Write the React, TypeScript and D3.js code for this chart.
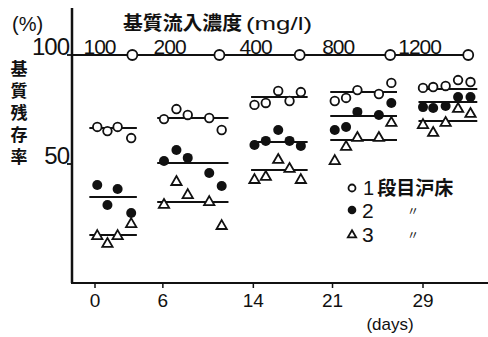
import React from "react";
import * as d3 from "d3";

// ---- data ----
const groupDays: number[][] = [
  [0.2, 1.1, 2.0, 3.2],
  [6.1, 7.2, 8.2, 10.1, 11.2],
  [14.1, 15.1, 16.2, 17.2, 18.2],
  [21.2, 22.2, 23.2, 25.1, 26.2],
  [29.0, 29.9, 31.0, 32.1, 33.2],
];
const groupSpan: [number, number][] = [
  [-0.5, 3.7],
  [5.5, 11.8],
  [13.8, 18.8],
  [20.8, 26.7],
  [28.6, 33.8],
];
const stage1: number[][] = [
  [67.0, 65.1, 67.0, 61.9],
  [70.6, 75.2, 72.5, 71.1, 65.6],
  [77.1, 78.0, 83.5, 78.9, 83.0],
  [78.9, 80.3, 83.9, 82.1, 87.2],
  [84.9, 85.3, 85.8, 88.5, 87.6],
];
const stage2: number[][] = [
  [40.4, 31.2, 38.5, 27.5],
  [51.4, 56.4, 52.8, 45.9, 39.9],
  [58.7, 60.6, 65.6, 60.6, 58.3],
  [65.6, 67.0, 73.9, 72.5, 78.0],
  [76.1, 75.7, 76.6, 80.7, 80.7],
];
const stage3: number[][] = [
  [17.4, 13.8, 17.4, 22.9],
  [31.7, 42.2, 36.2, 33.0, 22.0],
  [43.1, 44.5, 52.3, 48.2, 43.1],
  [51.8, 58.3, 62.4, 62.4, 69.3],
  [68.3, 64.7, 69.3, 75.7, 73.4],
];
const mean1 = [66.5, 71.1, 80.7, 83.0, 84.4];
const mean2 = [34.9, 50.5, 60.1, 72.0, 78.4];
const mean3 = [17.4, 32.6, 47.2, 61.0, 69.7];

const concLabels = ["100", "200", "400", "800", "1200"];
const concLabelDays = [0.4, 6.6, 14.2, 21.5, 28.7];
const concChangeDays = [3.3, 11.0, 18.1, 26.1, 33.0];

const xTicks = [0, 6, 14, 21, 29];
const yTicks = [100, 50];
const yLabel = "基質残存率";
const legendLabels = ["1段目沪床", "2", "3"];

export default function App() {
  const W = 488, H = 337;
  const x = d3.scaleLinear().domain([0, 29]).range([95, 423]);
  const y = d3.scaleLinear().domain([50, 100]).range([164, 55]);
  const axisX = 72;
  const axisBottom = 283;
  const axisTop = 8;
  const black = "#111";
  const numFont = "'Liberation Sans', Arial, sans-serif";
  const jpFont = "'Noto Sans CJK JP', sans-serif";
  const tri = d3.symbol().type(d3.symbolTriangle).size(46)() as string;
  const triSmall = d3.symbol().type(d3.symbolTriangle).size(30)() as string;

  const openC = (cx: number, cy: number, k: string, r = 4.3) => (
    <circle key={k} cx={cx} cy={cy} r={r} fill="#fff" stroke={black} strokeWidth={1.8} />
  );
  const fillC = (cx: number, cy: number, k: string, r = 5) => (
    <circle key={k} cx={cx} cy={cy} r={r} fill={black} />
  );
  const triM = (cx: number, cy: number, k: string, p = tri) => (
    <path key={k} d={p} transform={`translate(${cx},${cy + 1})`} fill="#fff" stroke={black} strokeWidth={1.8} />
  );

  return (
    <svg width={W} height={H} style={{ display: "block", position: "absolute", left: 0, top: 0, background: "#fff" }}>
      <rect width={W} height={H} fill="#fff" />
      {/* axes */}
      <line x1={axisX} y1={axisTop} x2={axisX} y2={axisBottom} stroke={black} strokeWidth={2.5} />
      <line x1={axisX - 1} y1={axisBottom} x2={W} y2={axisBottom} stroke={black} strokeWidth={2.2} />
      {xTicks.map((t) => (
        <g key={"xt" + t}>
          <line x1={x(t)} y1={axisBottom} x2={x(t)} y2={axisBottom + 5} stroke={black} strokeWidth={1.5} />
          <text x={x(t)} y={axisBottom + 24} textAnchor="middle" fontFamily={numFont} fontSize={19} fill={black}>{t}</text>
        </g>
      ))}
      <text x={390} y={330} textAnchor="middle" fontFamily={numFont} fontSize={17} fill={black}>(days)</text>
      {/* y ticks */}
      {yTicks.map((t) => (
        <g key={"yt" + t}>
          <line x1={axisX - 5} y1={y(t)} x2={axisX} y2={y(t)} stroke={black} strokeWidth={1.8} />
          <text x={axisX - 3} y={y(t)} textAnchor="end" fontFamily={numFont} fontSize={24} fill={black} letterSpacing={-1}>{t}</text>
        </g>
      ))}
      <text x={12} y={31} fontFamily={numFont} fontSize={20} fill={black}>(%)</text>
      <text x={19} y={60} fontFamily={jpFont} fontSize={17} fontWeight={600} fill={black}
        style={{ writingMode: "vertical-rl" } as any} letterSpacing={5}>{yLabel}</text>
      {/* title */}
      <text x={123} y={30} fontFamily={jpFont} fontSize={19} fontWeight={600} fill={black} textLength={119} lengthAdjust="spacingAndGlyphs">基質流入濃度</text>
      <text x={246} y={30} fontFamily={numFont} fontSize={19} fill={black} textLength={66} lengthAdjust="spacingAndGlyphs">(mg/l)</text>
      {/* 100 line with concentration change markers */}
      <line x1={axisX} y1={y(100)} x2={x(concChangeDays[concChangeDays.length - 1])} y2={y(100)} stroke={black} strokeWidth={2} />
      {concLabels.map((l, i) => (
        <text key={"cl" + l} x={x(concLabelDays[i])} y={y(100) - 1} textAnchor="middle" fontFamily={numFont} fontSize={21} fill={black} letterSpacing={-1}>{l}</text>
      ))}
      {concChangeDays.map((d, i) => openC(x(d), y(100), "cc" + i, 5))}
      {/* mean lines */}
      {groupSpan.map((s, g) => (
        <g key={"ml" + g}>
          {[mean1, mean2, mean3].map((m, j) => (
            <line key={j} x1={x(s[0])} x2={x(s[1])} y1={y(m[g])} y2={y(m[g])} stroke={black} strokeWidth={2} />
          ))}
        </g>
      ))}
      {/* points */}
      {groupDays.map((ds, g) => (
        <g key={"pts" + g}>
          {ds.map((d, i) => triM(x(d), y(stage3[g][i]), "t" + i))}
          {ds.map((d, i) => fillC(x(d), y(stage2[g][i]), "f" + i))}
          {ds.map((d, i) => openC(x(d), y(stage1[g][i]), "o" + i))}
        </g>
      ))}
      {/* legend */}
      {openC(352, 188, "lg1", 3.5)}
      {fillC(352, 210, "lg2", 4.3)}
      {triM(352, 234, "lg3", triSmall)}
      <text x={363} y={195} fontFamily={jpFont} fontSize={19} fill={black}>
        <tspan fontFamily={numFont} fontSize={20}>1</tspan>
        <tspan dx={3} fontWeight={600}>{legendLabels[0].slice(1)}</tspan>
      </text>
      <text x={362} y={218} fontFamily={numFont} fontSize={21} fill={black}>{legendLabels[1]}</text>
      <text x={362} y={242} fontFamily={numFont} fontSize={21} fill={black}>{legendLabels[2]}</text>
      <text x={413} y={216} textAnchor="middle" fontFamily={jpFont} fontSize={12} fill={black}>〃</text>
      <text x={413} y={240} textAnchor="middle" fontFamily={jpFont} fontSize={12} fill={black}>〃</text>
    </svg>
  );
}
